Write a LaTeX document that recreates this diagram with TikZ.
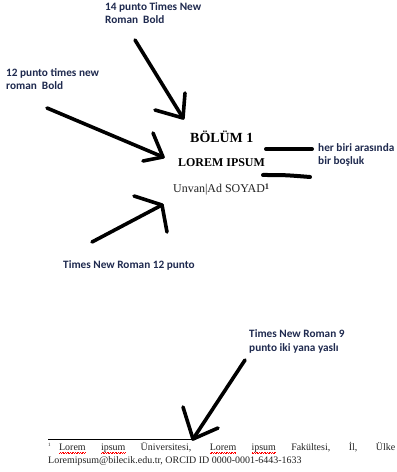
\documentclass[tikz,border=0pt]{standalone}
\usepackage{fontspec}
\setmainfont{Liberation Serif}
\newfontfamily\calib{Carlito}
\newsavebox\sqbox
\newcommand\redsquig[1]{\sbox\sqbox{#1}\rlap{\textcolor{red}{\xleaders\hbox{\rule[-2.9pt]{0.8pt}{0.55pt}\rule[-2.1pt]{0.8pt}{0.55pt}}\hskip\wd\sqbox}}\usebox\sqbox}
\definecolor{navy}{HTML}{1F2A4F}
\definecolor{ink}{HTML}{222222}
\begin{document}
\begin{tikzpicture}[x=1bp,y=-1bp,
  lbl/.style={font=\calib\bfseries\fontsize{11.3}{14}\selectfont, text=navy, anchor=base west, inner sep=0pt, align=left},
  head/.style={anchor=base west, inner sep=0pt, text=black},
  pen/.style={line width=3.6bp, line cap=round, line join=round},
  bar/.style={line width=4bp, line cap=round}]
\useasboundingbox (0,0) rectangle (396,472);
\fill[white] (0,0) rectangle (396,472);

% labels (anchor = baseline of the last line)
\node[lbl] (l14) at (105,24) {14 punto Times New\\Roman\ \ Bold};
\node[lbl] (l12) at (6,90) {12 punto times new\\roman\ \ Bold};
\node[lbl] (lsp) at (318,165) {her biri arasında\\bir boşluk};
\node[lbl] (ltnr) at (63,268) {Times New Roman 12 punto};
\node[lbl] (l9) at (249,351) {Times New Roman 9\\punto iki yana yaslı};

% main texts
\node[head, font=\bfseries\fontsize{14}{16}\selectfont] (bolum) at (190,143) {BÖLÜM 1};
\node[head, font=\bfseries\fontsize{12}{14}\selectfont] (lorem) at (178,167) {LOREM IPSUM};
\node[head, font=\fontsize{12}{14}\selectfont, text=ink] (unvan) at (173,193) {Unvan|Ad SOYAD\raisebox{4pt}{\fontsize{8.5}{9}\selectfont\bfseries 1}};

% arrow 1
\coordinate (a1s) at (135,40);
\coordinate (a1t) at (183,118);
\coordinate (a1l) at (155,110);
\coordinate (a1r) at (185,93);
\draw[pen] (a1s) -- (a1t);
\draw[pen] (a1l) -- (a1t) -- (a1r);

% arrow 2
\coordinate (a2s) at (47,108);
\coordinate (a2t) at (163,157);
\coordinate (a2u) at (153,133);
\coordinate (a2d) at (143,161);
\draw[pen] (a2s) -- (a2t);
\draw[pen] (a2u) -- (a2t) -- (a2d);

% arrow 3
\coordinate (a3s) at (92,242);
\coordinate (a3t) at (162,205);
\coordinate (a3u) at (134,196);
\coordinate (a3d) at (167,232);
\draw[pen] (a3s) -- (a3t);
\draw[pen] (a3u) -- (a3t) -- (a3d);

% arrow 4
\coordinate (a4s) at (245,360);
\coordinate (a4t) at (193,439);
\coordinate (a4u) at (183,407);
\coordinate (a4d) at (218,428);
\draw[pen] (a4s) -- (a4t);
\draw[pen] (a4u) -- (a4t) -- (a4d);

% spacing bars
\coordinate (b1a) at (266,149);
\coordinate (b1b) at (312,149);
\coordinate (b2a) at (263,175);
\coordinate (b2b) at (310,177);
\draw[bar] (b1a) -- (b1b);
\draw[bar] (b2a) .. controls (285,175) .. (b2b);

% footnote rule
\coordinate (fr1) at (48,439);
\coordinate (fr2) at (195,439);
\draw[line width=0.9bp] (fr1) -- (fr2);

% footnote
\node[anchor=north west, inner sep=0pt, text width=347bp, align=justify,
      font=\fontsize{10}{13}\selectfont, text=ink] (foot) at (48,442)
  {\textsuperscript{\fontsize{5}{6}\selectfont 1}\hspace{0.8em}\redsquig{Lorem} \redsquig{ipsum} Üniversitesi, \redsquig{Lorem} \redsquig{ipsum} Fakültesi, İl, Ülke\linebreak
   Loremipsum@bilecik.edu.tr, ORCID ID 0000-0001-6443-1633};
\end{tikzpicture}
\end{document}
